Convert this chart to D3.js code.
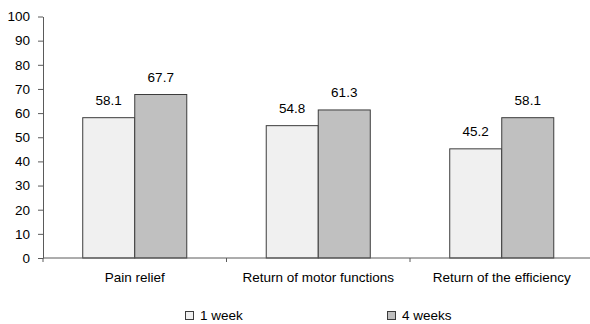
<!DOCTYPE html>
<html>
<head>
<meta charset="utf-8">
<script src="https://cdn.jsdelivr.net/npm/d3@7"></script>
<style>
  html, body { margin: 0; padding: 0; background: #fff; }
  svg { display: block; font-family: "Liberation Sans", Arial, sans-serif; }
</style>
</head>
<body>
<svg id="chart" width="590" height="324"></svg>
<script>
// Outcome categories and the share of patients per follow-up point
const categories = ["Pain relief", "Return of motor functions", "Return of the efficiency"];
const seriesNames = ["1 week", "4 weeks"];
const week1 = [58.1, 54.8, 45.2];
const week4 = [67.7, 61.3, 58.1];
const yTicks = [0, 10, 20, 30, 40, 50, 60, 70, 80, 90, 100];
const seriesColors = ["#f0f0f0", "#c0c0c0"];

const seriesValues = [week1, week4];
const rows = categories.map((c, i) => ({
  category: c,
  values: seriesNames.map((s, j) => ({ series: s, value: seriesValues[j][i], color: seriesColors[j] }))
}));

const svg = d3.select("#chart");
const plotLeft = 43, plotRight = 593.5, plotTop = 16.5, plotBottom = 258;
const fontSize = 13.5;
const axisColor = "#5a5a5a";

const x0 = d3.scaleBand().domain(categories).range([plotLeft, plotRight]).paddingInner(0).paddingOuter(0);
const x1 = d3.scaleBand().domain(seriesNames).range([0, x0.bandwidth()]).paddingInner(0).paddingOuter(0.764);
const y = d3.scaleLinear().domain([0, 100]).range([plotBottom, plotTop]);

// Y axis
const yAxis = d3.axisLeft(y).tickValues(yTicks).tickSize(5).tickPadding(8).tickSizeOuter(0);
const gy = svg.append("g").attr("transform", `translate(${plotLeft},0)`).call(yAxis);
gy.select(".domain").attr("stroke", axisColor);
gy.selectAll(".tick line").attr("stroke", axisColor);
gy.selectAll(".tick text").attr("fill", "#000").style("font-size", fontSize + "px").style("font-family", "Liberation Sans, Arial, sans-serif");

// Bars
const groups = svg.append("g").selectAll("g").data(rows).join("g")
  .attr("transform", d => `translate(${x0(d.category)},0)`);

groups.selectAll("rect").data(d => d.values).join("rect")
  .attr("x", d => x1(d.series))
  .attr("y", d => y(d.value))
  .attr("width", x1.bandwidth())
  .attr("height", d => y(0) - y(d.value))
  .attr("fill", d => d.color)
  .attr("stroke", "#3c3c3c")
  .attr("stroke-width", 1);

groups.selectAll("text.val").data(d => d.values).join("text")
  .attr("class", "val")
  .attr("x", d => x1(d.series) + x1.bandwidth() / 2)
  .attr("y", d => y(d.value) - 13)
  .attr("text-anchor", "middle")
  .style("font-size", fontSize + "px")
  .text(d => d.value.toFixed(1));

// X axis with ticks at category boundaries
const gx = svg.append("g");
gx.append("line").attr("x1", plotLeft).attr("x2", 590).attr("y1", plotBottom).attr("y2", plotBottom).attr("stroke", axisColor);
const boundaries = categories.map(c => x0(c));
gx.selectAll("line.tick").data(boundaries).join("line")
  .attr("class", "tick")
  .attr("x1", d => d).attr("x2", d => d)
  .attr("y1", plotBottom).attr("y2", plotBottom + 4)
  .attr("stroke", axisColor);
gx.selectAll("text").data(categories).join("text")
  .attr("x", d => x0(d) + x0.bandwidth() / 2)
  .attr("y", 282)
  .attr("text-anchor", "middle")
  .style("font-size", fontSize + "px")
  .text(d => d);

// Legend
const legendX = [185, 387];
const legend = svg.append("g").selectAll("g").data(seriesNames).join("g")
  .attr("transform", (d, i) => `translate(${legendX[i]},0)`);
legend.append("rect")
  .attr("x", 0.5).attr("y", 311.5).attr("width", 8).attr("height", 8)
  .attr("fill", (d, i) => seriesColors[i])
  .attr("stroke", "#3c3c3c");
legend.append("text")
  .attr("x", 15).attr("y", 320)
  .style("font-size", fontSize + "px")
  .text(d => d);
</script>
</body>
</html>
